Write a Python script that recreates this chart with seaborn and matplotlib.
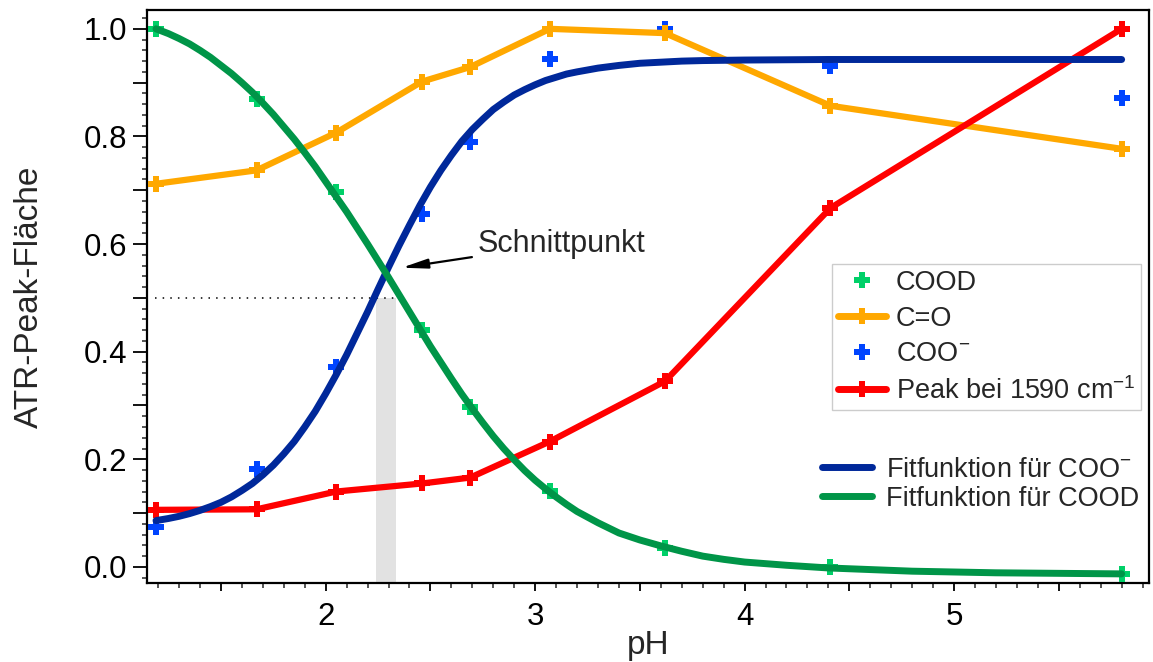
import matplotlib
matplotlib.use("Agg")
import numpy as np
import pandas as pd
import matplotlib.pyplot as plt
import seaborn as sns
from matplotlib.lines import Line2D
from matplotlib.ticker import MultipleLocator, FuncFormatter

# ---- data ----
ph = [1.19, 1.67, 2.05, 2.46, 2.69, 3.07, 3.62, 4.41, 5.80]
cood = [1.000, 0.870, 0.696, 0.440, 0.297, 0.141, 0.036, 0.000, -0.014]
c_o = [0.712, 0.737, 0.807, 0.902, 0.929, 1.000, 0.992, 0.857, 0.777]
coo = [0.075, 0.182, 0.371, 0.656, 0.790, 0.943, 1.000, 0.930, 0.871]
peak = [0.106, 0.107, 0.140, 0.155, 0.166, 0.233, 0.345, 0.667, 1.000]

fit_ph = [1.19, 1.25, 1.3, 1.35, 1.4, 1.45, 1.5, 1.55, 1.6, 1.65, 1.7, 1.75,
          1.8, 1.85, 1.9, 1.95, 2.0, 2.05, 2.1, 2.15, 2.2, 2.25, 2.3, 2.35,
          2.4, 2.45, 2.5, 2.55, 2.6, 2.65, 2.7, 2.75, 2.8, 2.85, 2.9, 2.95,
          3.0, 3.05, 3.1, 3.15, 3.2, 3.3, 3.4, 3.5, 3.6, 3.7, 3.8, 3.9, 4.0,
          4.2, 4.4, 4.6, 4.8, 5.2, 5.8]
fit_coo = [0.086, 0.090, 0.094, 0.099, 0.105, 0.112, 0.120, 0.130, 0.142, 0.155,
           0.171, 0.189, 0.210, 0.233, 0.260, 0.289, 0.322, 0.357, 0.394, 0.434,
           0.474, 0.516, 0.557, 0.597, 0.635, 0.672, 0.706, 0.737, 0.765, 0.791,
           0.813, 0.832, 0.850, 0.864, 0.877, 0.887, 0.896, 0.904, 0.910, 0.916,
           0.920, 0.927, 0.932, 0.936, 0.938, 0.940, 0.941, 0.9415, 0.942,
           0.9425, 0.943, 0.943, 0.943, 0.943, 0.943]
fit_cood = [1.000, 0.991, 0.982, 0.972, 0.960, 0.947, 0.932, 0.917, 0.900, 0.882,
            0.862, 0.841, 0.818, 0.795, 0.770, 0.744, 0.716, 0.688, 0.660, 0.630,
            0.600, 0.569, 0.538, 0.506, 0.474, 0.442, 0.410, 0.380, 0.350, 0.321,
            0.294, 0.268, 0.243, 0.220, 0.199, 0.179, 0.161, 0.145, 0.130, 0.116,
            0.103, 0.082, 0.063, 0.050, 0.039, 0.029, 0.020, 0.014, 0.009,
            0.003, -0.002, -0.005, -0.008, -0.011, -0.013]

x_ticks_labels = [2, 3, 4, 5]
y_tick_labels = [0.0, 0.2, 0.4, 0.6, 0.8, 1.0]

# ---- style ----
sns.set_style("ticks")
plt.rcParams["font.family"] = ["Liberation Sans", "DejaVu Sans"]
plt.rcParams["mathtext.fontset"] = "custom"
plt.rcParams["mathtext.rm"] = "Liberation Sans"
plt.rcParams["mathtext.it"] = "Liberation Sans:italic"
plt.rcParams["mathtext.bf"] = "Liberation Sans:bold"
plt.rcParams["lines.solid_joinstyle"] = "round"

ORANGE = "#FFA800"
RED = "#FF0000"
BLUE_FIT = "#00289A"
GREEN_FIT = "#009548"
GREEN_M = "#00D068"
BLUE_M = "#0044FF"

fig = plt.figure(figsize=(11.53, 6.62), dpi=100)
ax = fig.add_axes([0.1275, 0.1193, 0.8691, 0.8656])

# gray band and dotted guide line
ax.fill_between([2.24, 2.337], -0.03, 0.5, color="#E2E2E2", lw=0, zorder=1)
ax.plot([1.185, 2.335], [0.5, 0.5], ls=(0, (1, 4)), color="black", lw=1.1, zorder=2)

# scatter points (no lines)
sns.scatterplot(x=ph, y=coo, marker="P", s=140, color=BLUE_M, linewidth=0,
                ax=ax, legend=False, zorder=3)
sns.scatterplot(x=ph, y=cood, marker="P", s=140, color=GREEN_M, linewidth=0,
                ax=ax, legend=False, zorder=3)

# lines with markers
sns.lineplot(x=ph, y=c_o, color=ORANGE, lw=4.5, marker="P", markersize=12,
             markeredgewidth=0, ax=ax, legend=False, sort=False, estimator=None, zorder=4)
sns.lineplot(x=ph, y=peak, color=RED, lw=4.5, marker="P", markersize=12,
             markeredgewidth=0, ax=ax, legend=False, sort=False, estimator=None, zorder=5)

# fit curves
sns.lineplot(x=fit_ph, y=fit_coo, color=BLUE_FIT, lw=5, ax=ax, legend=False,
             sort=False, estimator=None, zorder=6)
sns.lineplot(x=fit_ph, y=fit_cood, color=GREEN_FIT, lw=5, ax=ax, legend=False,
             sort=False, estimator=None, zorder=7)

# annotation
ax.annotate("Schnittpunkt", xy=(2.363, 0.556), xytext=(2.727, 0.601),
            fontsize=22, va="center", ha="left",
            arrowprops=dict(arrowstyle="-|>,head_length=0.7,head_width=0.13",
                            color="black", lw=1.6, shrinkA=2, shrinkB=0),
            zorder=8)

# axes
ax.set_xlim(1.147, 5.931)
ax.set_ylim(-0.03, 1.035)
ax.xaxis.set_major_locator(MultipleLocator(0.5))
ax.xaxis.set_minor_locator(MultipleLocator(0.1))
ax.yaxis.set_major_locator(MultipleLocator(0.1))
ax.yaxis.set_minor_locator(MultipleLocator(0.02))


def xfmt(v, p):
    r = round(v)
    if abs(v - r) < 1e-6 and r in x_ticks_labels:
        return str(int(r))
    return ""


def yfmt(v, p):
    for t in y_tick_labels:
        if abs(v - t) < 1e-6:
            return f"{t:.1f}"
    return ""


ax.xaxis.set_major_formatter(FuncFormatter(xfmt))
ax.yaxis.set_major_formatter(FuncFormatter(yfmt))
ax.tick_params(axis="y", which="major", direction="out", length=10, width=1.3,
               labelsize=22.5, pad=4, colors="black")
ax.tick_params(axis="y", which="minor", direction="out", length=3.5, width=1.1)
ax.tick_params(axis="x", which="major", direction="out", length=5.5, width=1.3,
               labelsize=22.5, pad=8, colors="black")
ax.tick_params(axis="x", which="minor", direction="out", length=3.5, width=1.1)
for s in ax.spines.values():
    s.set_visible(True)
    s.set_linewidth(1.6)
    s.set_color("black")

ax.set_xlabel("pH", fontsize=24, labelpad=-1)
ax.set_ylabel("ATR-Peak-Fläche", fontsize=24, labelpad=28)

# legends
h1 = [
    Line2D([], [], ls="none", marker="P", ms=11, mfc=GREEN_M, mec=GREEN_M, mew=0),
    Line2D([], [], color=ORANGE, lw=5, marker="P", ms=12, mfc=ORANGE, mew=0),
    Line2D([], [], ls="none", marker="P", ms=11, mfc=BLUE_M, mec=BLUE_M, mew=0),
    Line2D([], [], color=RED, lw=5, marker="P", ms=12, mfc=RED, mew=0),
]
l1 = ["COOD", "C=O", r"COO$^{\mathregular{-}}$", r"Peak bei 1590 cm$^{\mathregular{-1}}$"]
leg1 = ax.legend(h1, l1, loc="upper right", bbox_to_anchor=(0.992, 0.556),
                 fontsize=19.5, frameon=True, fancybox=False, framealpha=1,
                 edgecolor="#CCCCCC", handlelength=1.8, handletextpad=0.35,
                 labelspacing=0.36, borderpad=0.2, borderaxespad=0)
leg1.get_frame().set_linewidth(1.0)
ax.add_artist(leg1)

h2 = [Line2D([], [], color=BLUE_FIT, lw=5), Line2D([], [], color=GREEN_FIT, lw=5)]
l2 = [r"Fitfunktion für COO$^{\mathregular{-}}$", "Fitfunktion für COOD"]
ax.legend(h2, l2, loc="upper right", bbox_to_anchor=(0.993, 0.225),
          fontsize=19.5, frameon=False, handlelength=1.85, handletextpad=0.52,
          labelspacing=0.1, borderpad=0.1, borderaxespad=0)

fig.savefig("out.png", dpi=100)
